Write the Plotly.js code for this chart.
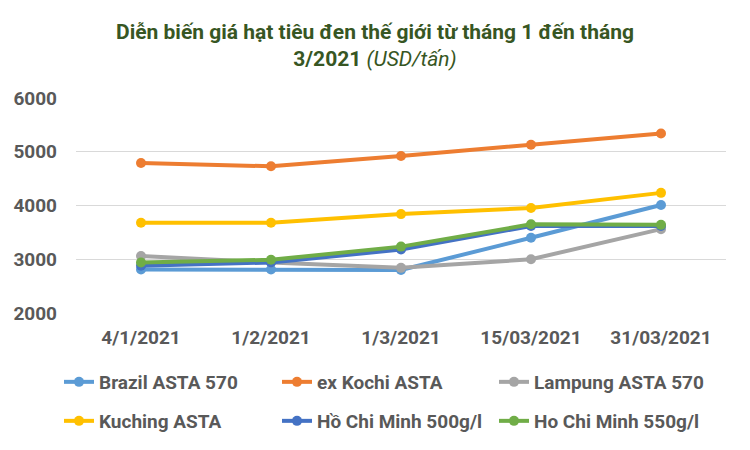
<!DOCTYPE html>
<html><head><meta charset="utf-8">
<script src="https://cdn.plot.ly/plotly-3.0.1.min.js"></script>
<style>body{margin:0;}#c{width:750px;height:450px;}</style>
</head><body><div id="c"></div>
<script>
const dates = ["4/1/2021","1/2/2021","1/3/2021","15/03/2021","31/03/2021"];
const seriesNames = ["Brazil ASTA 570","ex Kochi ASTA","Lampung ASTA 570","Kuching ASTA","Hồ Chi Minh 500g/l","Ho Chi Minh 550g/l"];
const brazil = [2810, 2810, 2800, 3400, 4010];
const kochi = [4790, 4730, 4920, 5130, 5340];
const lampung = [3060, 2940, 2840, 3000, 3560];
const kuching = [3680, 3680, 3840, 3955, 4235];
const hcm500 = [2880, 2940, 3180, 3620, 3620];
const hcm550 = [2940, 2990, 3235, 3650, 3640];
const colors = ["#5B9BD5","#ED7D31","#A5A5A5","#FFC000","#4472C4","#70AD47"];

const FONT = "Roboto, sans-serif";
const vals = [brazil,kochi,lampung,kuching,hcm500,hcm550];
const legNames = ['legend','legend2','legend3','legend4','legend5','legend6'];
const traces = vals.map((v,i)=>({
  type:'scatter', mode:'lines+markers', x:dates, y:v, name:seriesNames[i],
  line:{color:colors[i], width:4}, marker:{color:colors[i], size:10},
  legend: legNames[i], cliponaxis:false
}));
const legX = [59, 277, 494];
const legY = [382, 421];
const layout = {
  width:750, height:450,
  margin:{l:76, r:24, t:98, b:137},
  paper_bgcolor:'#fff', plot_bgcolor:'#fff',
  title:{text:"Diễn biến giá hạt tiêu đen thế giới từ tháng 1 đến tháng<br>3/2021 <span style='font-weight:normal'><i>(USD/tấn)</i></span>",
    x:0.5, xanchor:'center', y:1-39/450, yanchor:'top', xref:'container', yref:'container',
    font:{family:FONT, size:21, color:'#375623', weight:'bold'}},
  xaxis:{type:'category', range:[-0.5,4.5], showgrid:false, zeroline:false, showline:false, ticks:'',
    tickfont:{family:FONT, size:19, color:'#595959', weight:'bold'}, ticklabelstandoff:11, fixedrange:true},
  yaxis:{range:[2000,6000], dtick:1000, tick0:2000, showgrid:true, gridcolor:'#D9D9D9', gridwidth:1,
    zeroline:false, showline:false, ticks:'', ticklabelstandoff:18,
    tickfont:{family:FONT, size:19, color:'#595959', weight:'bold'}},
  showlegend:true
};
legNames.forEach((ln,i)=>{
  layout[ln] = {orientation:'h', xref:'container', yref:'container',
    x:legX[i%3]/750, xanchor:'left', y:1-legY[Math.floor(i/3)]/450, yanchor:'middle',
    font:{family:FONT, size:19, color:'#595959', weight:'bold'}, bgcolor:'rgba(0,0,0,0)'};
});
Plotly.newPlot('c', traces, layout, {staticPlot:true});
</script></body></html>
